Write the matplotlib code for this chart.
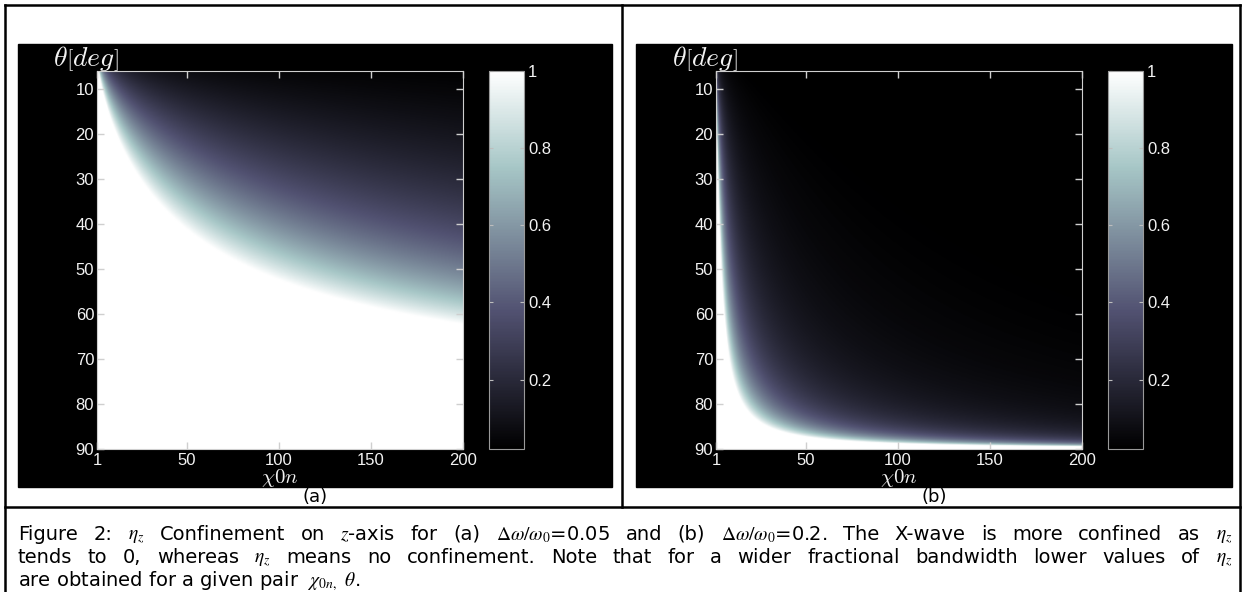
import numpy as np
import matplotlib
matplotlib.use("Agg")
import matplotlib.pyplot as plt
from matplotlib.lines import Line2D
from matplotlib.patches import Rectangle

# values
chi_ticks = [1, 50, 100, 150, 200]
theta_ticks = [10, 20, 30, 40, 50, 60, 70, 80, 90]
cbar_ticks = [0.2, 0.4, 0.6, 0.8, 1.0]
cbar_labels = ['0.2', '0.4', '0.6', '0.8', '1']

# edge of the white (eta_z = 1) region, theta [deg] -> chi_0n
edge_theta_a = [6, 8, 21, 34, 45, 50, 52.6, 58, 61.3]
edge_chi_a = [1.5, 3, 13.5, 31, 57, 79, 100, 155, 199]
edge_theta_b = [6, 10, 20, 60, 70, 80, 85, 88, 89, 89.5]
edge_chi_b = [0.4, 0.6, 1.2, 4.5, 8, 16, 34, 64, 110, 200]
# fall-off exponent of eta_z past the edge
decay_a = 0.76
decay_b = 1.0

chi = np.linspace(1, 200, 400)
theta = np.linspace(6, 90, 500)


def eta_map(edge_theta, edge_chi, p):
    # smooth edge: quadratic through the readings in log(chi) vs log(tan theta)
    u = np.log(np.tan(np.radians(edge_theta)))
    c = np.polyfit(u, np.log(edge_chi), 2)
    t = np.log(np.tan(np.radians(np.clip(theta, 0, 89.95))))
    chi_edge = np.exp(np.polyval(c, t))
    return np.clip((chi_edge[:, None] / chi[None, :]) ** p, None, 1.0)


W, H = 1245, 592
fig = plt.figure(figsize=(W / 100, H / 100), dpi=100)
fig.patch.set_facecolor('white')


def fx(x):
    return x / W


def fy(y):
    return 1 - y / H


def box(x, y, w, h):
    return [fx(x), fy(y + h), w / W, h / H]


frame = '#cfcfcf'
txt = '#f2f2f2'
cap_font = 'DejaVu Sans'


def line(x1, y1, x2, y2, lw=1.8):
    fig.add_artist(Line2D([fx(x1), fx(x2)], [fy(y1), fy(y2)],
                          transform=fig.transFigure, color='black', lw=lw))


# table borders
line(5, 5, 1240, 5)
line(5, 5, 5, 592)
line(1240, 5, 1240, 592)
line(622, 5, 622, 507)
line(5, 507, 1240, 507)

ax_top, ax_h = 71, 378
black_bottom = 487


def panel(bx0, bx1, ax_x, eta, tag):
    fig.add_artist(Rectangle((fx(bx0), fy(black_bottom)), (bx1 - bx0) / W,
                             (black_bottom - 44) / H,
                             transform=fig.transFigure, color='black', zorder=0))
    ax = fig.add_axes(box(ax_x, ax_top, 366, ax_h))
    im = ax.imshow(eta, cmap='bone', vmin=0.02, vmax=1,
                   extent=(chi[0], chi[-1], theta[-1], theta[0]),
                   aspect='auto', interpolation='bilinear')
    ax.set_xlim(1, 200)
    ax.set_ylim(90, 6)
    ax.set_xticks(chi_ticks)
    ax.set_yticks(theta_ticks)
    ax.tick_params(direction='in', top=True, right=True, length=5, width=1,
                   color=frame, labelcolor=txt, labelsize=12, pad=2)
    ax.tick_params(axis='x', pad=3)
    for lab in ax.get_xticklabels() + ax.get_yticklabels():
        lab.set_family('Liberation Sans')
    for s in ax.spines.values():
        s.set_color(frame)
    ax.text(-0.03, 0.995, r'$\theta\left[deg\right]$', transform=ax.transAxes,
            ha='center', va='bottom', color=txt, fontsize=20, math_fontfamily='cm')
    ax.text(0.5, -0.047, r'$\chi 0n$', transform=ax.transAxes,
            ha='center', va='top', color=txt, fontsize=15, math_fontfamily='cm')

    cax = fig.add_axes(box(ax_x + 392, ax_top, 35, ax_h))
    cb = fig.colorbar(im, cax=cax, ticks=cbar_ticks)
    cb.set_ticklabels(cbar_labels)
    cb.outline.set_edgecolor('#9a9a9a')
    cax.tick_params(direction='in', left=True, right=True, length=3,
                    color='#bdbdbd', labelcolor=txt, labelsize=12, pad=3)
    for lab in cax.get_yticklabels():
        lab.set_family('Liberation Sans')

    fig.text(fx((bx0 + bx1) / 2), fy(497), tag, ha='center', va='center',
             fontsize=13, family=cap_font)


panel(18, 612, 97, eta_map(edge_theta_a, edge_chi_a, decay_a), '(a)')
panel(636, 1232, 716, eta_map(edge_theta_b, edge_chi_b, decay_b), '(b)')

# caption, justified like the document
cap_x0, cap_x1 = 18, 1232
line1 = ['Figure', '2:', r'$\eta_z$', 'Confinement', 'on', r'$z$-axis', 'for', '(a)',
         r'$\Delta\omega/\omega_0$=0.05', 'and', '(b)', r'$\Delta\omega/\omega_0$=0.2.',
         'The', 'X-wave', 'is', 'more', 'confined', 'as', r'$\eta_z$']
line2 = ['tends', 'to', '0,', 'whereas', r'$\eta_z$', 'means', 'no', 'confinement.',
         'Note', 'that', 'for', 'a', 'wider', 'fractional', 'bandwidth', 'lower',
         'values', 'of', r'$\eta_z$']
line3 = r'are obtained for a given pair  $\chi_{0n,}$ $\theta$.'

renderer = fig.canvas.get_renderer()


def word_widths(words, size):
    items = [fig.text(0, 0, w, fontsize=size, family=cap_font,
                      math_fontfamily='stix') for w in words]
    widths = [t.get_window_extent(renderer).width for t in items]
    for t in items:
        t.remove()
    return widths


# font size at which line 1 fills the width with ordinary spaces
base = 10.0
wsum = sum(word_widths(line1, base))
space = 0.3 * base * 100 / 72
cap_size = min(14.0, base * (cap_x1 - cap_x0) / (wsum + (len(line1) - 1) * space))


def caption_line(words, y):
    widths = word_widths(words, cap_size)
    gap = (cap_x1 - cap_x0 - sum(widths)) / (len(words) - 1)
    x = cap_x0
    for w, wd in zip(words, widths):
        fig.text(fx(x), fy(y), w, fontsize=cap_size, family=cap_font,
                 math_fontfamily='stix', va='baseline')
        x += wd + gap


caption_line(line1, 540)
caption_line(line2, 563)
fig.text(fx(cap_x0), fy(586), line3, fontsize=cap_size, family=cap_font,
         math_fontfamily='stix', va='baseline')

fig.savefig('out.png', dpi=100)
